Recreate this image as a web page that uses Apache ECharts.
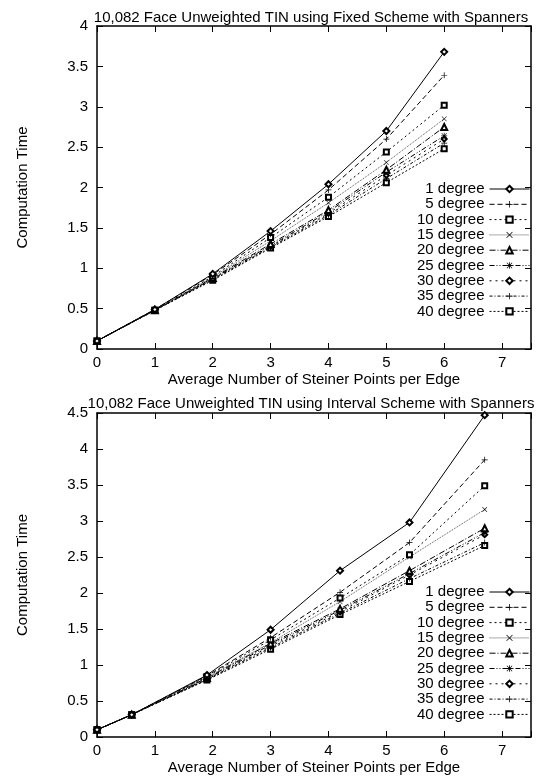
<!DOCTYPE html>
<html><head><meta charset="utf-8">
<script src="https://cdn.jsdelivr.net/npm/echarts@6/dist/echarts.min.js"></script>
<style>html,body{margin:0;padding:0;background:#fff}#c{width:541px;height:778px}</style>
</head><body><div id="c"></div>
<script>
var seriesNames = ['1 degree','5 degree','10 degree','15 degree','20 degree','25 degree','30 degree','35 degree','40 degree'];
var xFixed = [0, 1, 2, 3, 4, 5, 6];
var fixedTimes = [
  [0.1, 0.49, 0.93, 1.46, 2.04, 2.70, 3.68],
  [0.1, 0.49, 0.92, 1.42, 1.97, 2.60, 3.39],
  [0.1, 0.48, 0.90, 1.38, 1.88, 2.44, 3.02],
  [0.1, 0.48, 0.89, 1.34, 1.81, 2.31, 2.85],
  [0.1, 0.48, 0.88, 1.30, 1.72, 2.22, 2.75],
  [0.1, 0.48, 0.87, 1.28, 1.70, 2.19, 2.64],
  [0.1, 0.48, 0.87, 1.27, 1.68, 2.15, 2.60],
  [0.1, 0.48, 0.86, 1.26, 1.66, 2.11, 2.55],
  [0.1, 0.48, 0.85, 1.25, 1.64, 2.06, 2.48]
];
var xInterval = [0, 0.6, 1.9, 3.0, 4.2, 5.4, 6.7];
var intervalTimes = [
  [0.1, 0.31, 0.86, 1.49, 2.31, 2.98, 4.47],
  [0.1, 0.31, 0.85, 1.38, 2.01, 2.70, 3.85],
  [0.1, 0.31, 0.84, 1.35, 1.93, 2.53, 3.49],
  [0.1, 0.31, 0.83, 1.31, 1.88, 2.50, 3.16],
  [0.1, 0.31, 0.82, 1.30, 1.78, 2.31, 2.90],
  [0.1, 0.31, 0.81, 1.28, 1.76, 2.27, 2.84],
  [0.1, 0.31, 0.80, 1.26, 1.74, 2.25, 2.81],
  [0.1, 0.31, 0.80, 1.24, 1.72, 2.20, 2.70],
  [0.1, 0.31, 0.79, 1.22, 1.70, 2.16, 2.66]
];
var titles = ['10,082 Face Unweighted TIN using Fixed Scheme with Spanners',
              '10,082 Face Unweighted TIN using Interval Scheme with Spanners'];

var PLUS = 'path://M0,4.4H10V5.6H0Z M4.4,0H5.6V10H4.4Z';
var XS = 'path://M0.8,0L5,4.2L9.2,0L10,0.8L5.8,5L10,9.2L9.2,10L5,5.8L0.8,10L0,9.2L4.2,5L0,0.8Z';
var STAR = 'path://M0,4.4H10V5.6H0Z M4.4,0H5.6V10H4.4Z M1.2,0.5L5,4.3L8.8,0.5L9.5,1.2L5.7,5L9.5,8.8L8.8,9.5L5,5.7L1.2,9.5L0.5,8.8L4.3,5L0.5,1.2Z';
var styles = [
  {sym:'emptyDiamond', size:6, dash:'solid', empty:true},
  {sym:PLUS, size:6, dash:[5,3], empty:false},
  {sym:'emptyRect', size:5, dash:[2,3], empty:true},
  {sym:XS, size:5, dash:[1,1], empty:false, color:'#555'},
  {sym:'emptyTriangle', size:6, dash:[6,2,1,2], empty:true},
  {sym:STAR, size:6, dash:[5,2,1,2,1,2], empty:false},
  {sym:'emptyDiamond', size:5, dash:[2,4], empty:true},
  {sym:PLUS, size:6, dash:[3,2,1,2], empty:false},
  {sym:'emptyRect', size:5, dash:[2,2], empty:true}
];
var FONT = 'Liberation Sans';
var grids = [
  {left:97, top:26, width:434, height:323},
  {left:97, top:413, width:434, height:324}
];
var yMax = [4, 4.5];
var xAxes = [], yAxes = [], series = [], legends = [], titleArr = [];
for (var g = 0; g < 2; g++) {
  xAxes.push({type:'value', gridIndex:g, min:0, max:7.5, interval:1, position:'bottom',
    name:'Average Number of Steiner Points per Edge', nameLocation:'middle', nameGap:23,
    nameTextStyle:{fontFamily:FONT, fontSize:15, color:'#000'},
    axisLine:{show:true, onZero:false, lineStyle:{color:'#000', width:1.5}},
    axisTick:{show:true, inside:true, length:6, lineStyle:{color:'#000'}},
    axisLabel:{fontFamily:FONT, fontSize:15, color:'#000', margin:6,
      formatter:function(v){return v<=7?String(v):'';}},
    splitLine:{show:false}});
  xAxes.push({type:'value', gridIndex:g, min:0, max:7.5, interval:1, position:'top',
    axisLine:{show:true, onZero:false, lineStyle:{color:'#000', width:1.5}},
    axisTick:{show:true, inside:true, length:6, lineStyle:{color:'#000'}},
    axisLabel:{show:false}, splitLine:{show:false}});
  yAxes.push({type:'value', gridIndex:g, min:0, max:yMax[g], interval:0.5, position:'left',
    name:'Computation Time', nameLocation:'middle', nameGap:67, nameRotate:90,
    nameTextStyle:{fontFamily:FONT, fontSize:15, color:'#000'},
    axisLine:{show:true, onZero:false, lineStyle:{color:'#000', width:1.5}},
    axisTick:{show:true, inside:true, length:6, lineStyle:{color:'#000'}},
    axisLabel:{fontFamily:FONT, fontSize:15, color:'#000', margin:9},
    splitLine:{show:false}});
  yAxes.push({type:'value', gridIndex:g, min:0, max:yMax[g], interval:0.5, position:'right',
    axisLine:{show:true, onZero:false, lineStyle:{color:'#000', width:1.5}},
    axisTick:{show:true, inside:true, length:6, lineStyle:{color:'#000'}},
    axisLabel:{show:false}, splitLine:{show:false}});
  var xs = g === 0 ? xFixed : xInterval;
  var ys = g === 0 ? fixedTimes : intervalTimes;
  for (var s = 0; s < seriesNames.length; s++) {
    var st = styles[s];
    var col = st.color || '#000';
    series.push({type:'line', name:seriesNames[s], xAxisIndex:g*2, yAxisIndex:g*2,
      data: xs.map(function(x,i){return [x, ys[s][i]];}),
      symbol: st.sym, symbolSize: st.size, showSymbol:true, animation:false,
      z: 20 - s,
      lineStyle:{color:col, width:1, type:st.dash},
      itemStyle: st.empty ? {color:'#000', borderColor:'#000', borderWidth:1} : {color:'#000', borderWidth:0},
      emphasis:{disabled:true}});
  }
  legends.push({orient:'vertical', right:11, top: g === 0 ? 181.5 : 584.5, align:'right',
    padding:0, itemWidth:40, itemHeight:8, itemGap:0.3, selectedMode:false,
    lineStyle:{width:1}, itemStyle:{borderWidth:1},
    textStyle:{fontFamily:FONT, fontSize:15, color:'#000', lineHeight:15},
    data: seriesNames});
  titleArr.push({text:titles[g], left:306, textAlign:'center', top: g === 0 ? 5 : 391,
    textStyle:{fontFamily:FONT, fontSize:15, fontWeight:'normal', color:'#000'}});
}
var chart = echarts.init(document.getElementById('c'), null, {renderer:'canvas'});
chart.setOption({animation:false, backgroundColor:'#fff', title:titleArr, grid:grids,
  xAxis:xAxes, yAxis:yAxes, series:series, legend:legends});
</script></body></html>
